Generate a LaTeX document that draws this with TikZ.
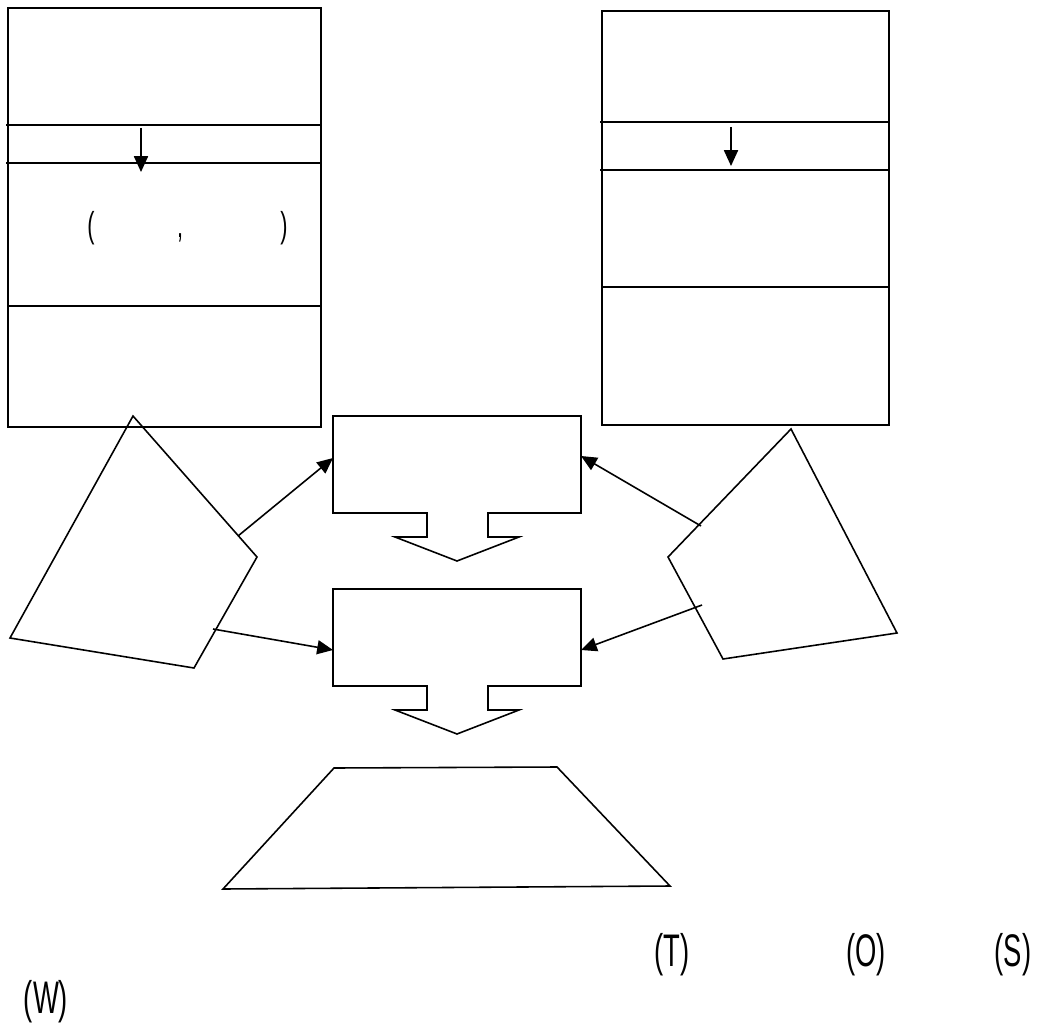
\documentclass[tikz,border=0pt]{standalone}
\usepackage{fontspec}
\setmainfont{Liberation Sans}[FakeStretch=0.6]
\usetikzlibrary{arrows.meta}

\begin{document}
\begin{tikzpicture}[x=0.02cm, y=-0.02cm, line width=0.9pt, line join=miter,
  flecha/.style={-{Triangle[length=9pt,width=8pt]}},
  rotulo/.style={font=\fontsize{26}{30}\selectfont, inner sep=0pt, anchor=base},
  signo/.style={font=\fontsize{20.5}{24}\selectfont, inner sep=0pt, anchor=base}]

\useasboundingbox (0,0) rectangle (1037,1027);

% Columna izquierda
\draw (8,8) rectangle (321,427);
\draw (6,125) -- (321,125);
\draw (6,163) -- (321,163);
\draw (8,306) -- (321,306);
\coordinate (ia) at (141,128);
\coordinate (ib) at (141,172);
\draw[flecha] (ia) -- (ib);
\node[signo] (pa) at (91,237) {(};
\node[signo] (coma) at (180,237) {,};
\node[signo] (pc) at (284,237) {)};

% Columna derecha
\draw (602,11) rectangle (889,425);
\draw (600,122) -- (889,122);
\draw (600,170) -- (889,170);
\draw (602,287) -- (889,287);
\coordinate (da) at (731,127);
\coordinate (db) at (731,166);
\draw[flecha] (da) -- (db);

% Cuadrilateros laterales
\draw (133,416) coordinate (qi1) -- (257,557) coordinate (qi2)
  -- (194,668) coordinate (qi3) -- (10,638) coordinate (qi4) -- cycle;
\draw (791,429) coordinate (qd1) -- (897,633) coordinate (qd2)
  -- (723,659) coordinate (qd3) -- (668,557) coordinate (qd4) -- cycle;

% Cajas centrales con flecha
\foreach \y/\n in {416/1, 589/2} {
  \draw (333,\y) -- (581,\y) -- (581,\y+97) -- (488,\y+97) -- (488,\y+121)
    -- (519,\y+121) -- (457,\y+145) -- (395,\y+121) -- (427,\y+121)
    -- (427,\y+97) -- (333,\y+97) -- cycle;
  \coordinate (c\n o) at (333,\y+42);
  \coordinate (c\n e) at (581,\y+40);
}
\coordinate (c2o) at (333,650);
\coordinate (c2e) at (581,650);

% Flechas hacia las cajas
\coordinate (si1) at (238,536);
\coordinate (si2) at (213,629);
\coordinate (sd1) at (701,526);
\coordinate (sd2) at (702,605);
\draw[flecha] (si1) -- (c1o);
\draw[flecha] (si2) -- (c2o);
\draw[flecha] (sd1) -- (c1e);
\draw[flecha] (sd2) -- (c2e);

% Trapecio
\draw (334,768) -- (557,767) -- (670,886) -- (223,889) -- cycle;

% Rotulos inferiores
\node[rotulo] (t) at (672,966) {(T)};
\node[rotulo] (o) at (866,966) {(O)};
\node[rotulo] (s) at (1013,966) {(S)};
\node[rotulo] (w) at (46,1013) {(W)};
\end{tikzpicture}
\end{document}
